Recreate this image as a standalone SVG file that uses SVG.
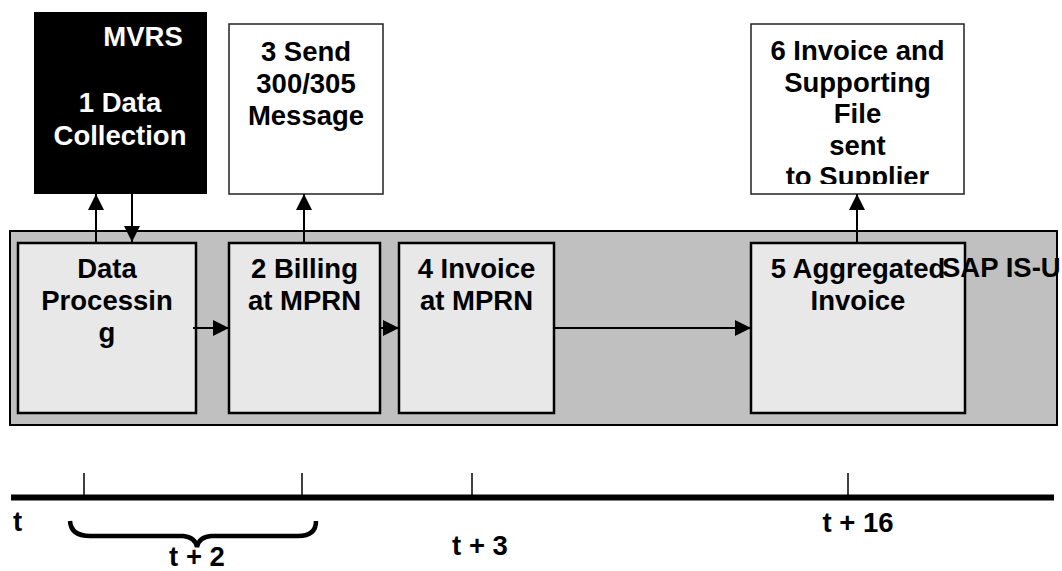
<svg xmlns="http://www.w3.org/2000/svg" width="1062" height="571" viewBox="0 0 1062 571">
<style>
.t{font-family:"Liberation Sans",Arial,sans-serif;font-weight:bold;font-size:27.5px;fill:#000;text-anchor:middle}
.w{fill:#fff}
.inner{fill:#e8e8e8;stroke:#000;stroke-width:2.5}
.top{fill:#fff;stroke:#222;stroke-width:1.5}
.c{stroke:#000;stroke-width:2;fill:none}
.tick{stroke:#000;stroke-width:1.5}
</style>
<defs>
<marker id="ah" markerUnits="userSpaceOnUse" markerWidth="16" markerHeight="16" viewBox="0 0 16 16" refX="16" refY="8" orient="auto">
<path d="M0,0 L16,8 L0,16 z" fill="#000"/>
</marker>
<clipPath id="clip6"><rect x="751" y="24" width="213" height="160"/></clipPath>
</defs>
<g id="sap-isu">
<rect x="10" y="231" width="1047" height="194" fill="#c0c0c0" stroke="#000" stroke-width="2"/>
</g>
<g id="mvrs">
<rect x="34" y="12" width="173" height="182" fill="#000"/>
<text class="t w" x="143" y="46">MVRS</text>
<text class="t w" x="120" y="112">1 Data</text>
<text class="t w" x="120" y="145">Collection</text>
</g>
<g id="send300">
<rect class="top" x="229" y="24" width="154" height="170"/>
<text class="t" x="306" y="61">3 Send</text>
<text class="t" x="306" y="93">300/305</text>
<text class="t" x="306" y="125">Message</text>
</g>
<g id="invoice-sent">
<rect class="top" x="751" y="24" width="213" height="170"/>
<g clip-path="url(#clip6)">
<text class="t" x="857.5" y="60">6 Invoice and</text>
<text class="t" x="857.5" y="91.5">Supporting</text>
<text class="t" x="857.5" y="123">File</text>
<text class="t" x="857.5" y="154.5">sent</text>
<text class="t" x="857.5" y="186">to Supplier</text>
</g>
</g>
<g id="data-processing">
<rect class="inner" x="18" y="243" width="178" height="170"/>
<text class="t" x="107" y="278">Data</text>
<text class="t" x="107" y="310">Processin</text>
<text class="t" x="107" y="342">g</text>
</g>
<g id="billing">
<rect class="inner" x="229" y="243" width="151" height="170"/>
<text class="t" x="304.5" y="278">2 Billing</text>
<text class="t" x="304.5" y="310">at MPRN</text>
</g>
<g id="invoice-mprn">
<rect class="inner" x="399" y="243" width="155" height="170"/>
<text class="t" x="476.5" y="278">4 Invoice</text>
<text class="t" x="476.5" y="310">at MPRN</text>
</g>
<g id="aggregated">
<rect class="inner" x="751" y="243" width="214" height="170"/>
<text class="t" x="858" y="278">5 Aggregated</text>
<text class="t" x="858" y="310">Invoice</text>
</g>
<g id="sap-isu-label">
<text class="t" x="942" y="277" style="text-anchor:start">SAP IS-U</text>
</g>
<g id="connectors">
<line class="c" x1="96" y1="243" x2="96" y2="194" marker-end="url(#ah)"/>
<line class="c" x1="132" y1="194" x2="132" y2="242" marker-end="url(#ah)"/>
<line class="c" x1="304" y1="243" x2="304" y2="194" marker-end="url(#ah)"/>
<line class="c" x1="857" y1="243" x2="857" y2="194" marker-end="url(#ah)"/>
<line class="c" x1="193" y1="328" x2="229" y2="328" marker-end="url(#ah)"/>
<line class="c" x1="380" y1="328" x2="399" y2="328" marker-end="url(#ah)"/>
<line class="c" x1="554" y1="328" x2="751" y2="328" marker-end="url(#ah)"/>
</g>
<g id="timeline">
<line x1="11" y1="497.5" x2="1054" y2="497.5" stroke="#000" stroke-width="6"/>
<line class="tick" x1="84" y1="473" x2="84" y2="495"/>
<line class="tick" x1="302" y1="473" x2="302" y2="495"/>
<line class="tick" x1="472" y1="473" x2="472" y2="495"/>
<line class="tick" x1="848" y1="473" x2="848" y2="495"/>
<path d="M70,521 Q71,536 90,536 L183,536 Q195,537 197,547 Q199,537 211,536 L298,536 Q316,536 316,521" fill="none" stroke="#000" stroke-width="4.5"/>
<text class="t" x="13" y="531" style="text-anchor:start">t</text>
<text class="t" x="197" y="566">t + 2</text>
<text class="t" x="480" y="555">t + 3</text>
<text class="t" x="858" y="532">t + 16</text>
</g>
</svg>
